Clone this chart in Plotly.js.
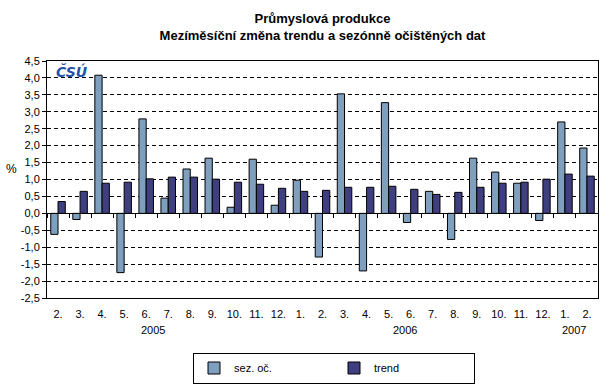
<!DOCTYPE html>
<html>
<head>
<meta charset="utf-8">
<script src="https://cdn.plot.ly/plotly-3.0.1.min.js"></script>
<style>html,body{margin:0;padding:0;background:#fff;}#chart{width:609px;height:384px;}</style>
</head>
<body>
<div id="chart"></div>
<script>
const months = ["2.","3.","4.","5.","6.","7.","8.","9.","10.","11.","12.",
                "1.","2.","3.","4.","5.","6.","7.","8.","9.","10.","11.","12.",
                "1.","2."];
const years = ["2005","2006","2007"];
const yearCounts = [11, 12, 2];
const sezOc = [-0.62,-0.18,4.08,-1.75,2.79,0.45,1.31,1.63,0.18,1.60,0.24,
               0.98,-1.29,3.53,-1.70,3.27,-0.27,0.65,-0.77,1.63,1.22,0.89,-0.21,
               2.70,1.93];
const trend = [0.35,0.65,0.89,0.92,1.02,1.07,1.07,1.01,0.92,0.86,0.74,
               0.65,0.68,0.77,0.77,0.80,0.71,0.56,0.62,0.77,0.89,0.92,1.01,
               1.16,1.10];
const yTicks = [-2.5,-2.0,-1.5,-1.0,-0.5,0,0.5,1.0,1.5,2.0,2.5,3.0,3.5,4.0,4.5];

const idx = months.map((m, i) => i);
const yRange = [-2.5, 4.5];
const font = "Liberation Sans, Arial, sans-serif";

const traces = [
  {type:'bar', name:'sez. oč.', x: idx, y: sezOc,
   marker:{color:'#7f9fbf', line:{color:'#000', width:1}}, hoverinfo:'skip'},
  {type:'bar', name:'trend', x: idx, y: trend,
   marker:{color:'#3f3f80', line:{color:'#000', width:1}}, hoverinfo:'skip'},
  {type:'scatter', mode:'none', x: idx, y: trend, xaxis:'x2', showlegend:false, hoverinfo:'skip'}
];

const annotations = [];
let start = 0;
years.forEach((yr, k) => {
  annotations.push({text: yr, xref:'x', yref:'paper', x: start + (yearCounts[k]-1)*0.43,
    y: -0.135, yanchor:'middle', xanchor:'center', showarrow:false,
    font:{family:font, size:11, color:'#000'}});
  start += yearCounts[k];
});
annotations.push({text:'%', xref:'paper', yref:'paper', x:-0.064, y:0.545,
  xanchor:'center', yanchor:'middle', showarrow:false, font:{family:font, size:12, color:'#000'}});
annotations.push({text:'<b><i>ČSÚ</i></b>', xref:'paper', yref:'paper', x:0.012, y:1.0,
  xanchor:'left', yanchor:'top', showarrow:false,
  font:{family:'DejaVu Sans, sans-serif', size:14, color:'#2552a6'}});

const layout = {
  width:609, height:384,
  margin:{l:47, r:11, t:61, b:86, autoexpand:false},
  paper_bgcolor:'#fff', plot_bgcolor:'#fff',
  separators:', ',
  font:{family:font, size:11, color:'#000'},
  title:{text:'<b>Průmyslová produkce</b><br><b>Mezíměsíční změna trendu a sezónně očištěných dat</b>',
         x:0.5, xref:'paper', y:0.939, yanchor:'top', font:{family:font, size:13, color:'#000'}},
  barmode:'group', bargap:0.34, bargroupgap:0,
  xaxis:{range:[-0.5, months.length-0.5], tickmode:'array', tickvals:idx, ticktext:months,
         ticks:'', showline:true, linecolor:'#000', linewidth:1, mirror:true,
         showgrid:false, zeroline:false, fixedrange:true, ticklabelstandoff:6,
         tickfont:{family:font, size:11, color:'#000'}},
  xaxis2:{overlaying:'x', matches:'x', anchor:'free',
          position:(0 - yRange[0])/(yRange[1]-yRange[0]),
          showline:true, linecolor:'#000', linewidth:1,
          ticks:'outside', ticklen:4, tickcolor:'#000', tickwidth:1,
          tickmode:'linear', tick0:-0.5, dtick:1, showticklabels:false,
          showgrid:false, zeroline:false},
  yaxis:{range:yRange, tickmode:'array', tickvals:yTicks,
         ticktext:yTicks.map(v => v.toFixed(1).replace('.', ',')),
         ticks:'outside', ticklen:4, tickcolor:'#000',
         showline:true, linecolor:'#000', linewidth:1, mirror:true,
         showgrid:true, gridcolor:'#000', gridwidth:1, griddash:'4px,3px',
         zeroline:true, zerolinecolor:'#000', zerolinewidth:1,
         tickfont:{family:font, size:11, color:'#000'}},
  showlegend:true,
  legend:{orientation:'h', x:0.265, y:-0.23, xanchor:'left', yanchor:'top',
          bordercolor:'#000', borderwidth:1, bgcolor:'#fff',
          entrywidth:95, font:{family:font, size:11, color:'#000'}, traceorder:'normal'},
  annotations: annotations
};

Plotly.newPlot('chart', traces, layout, {staticPlot:true, displayModeBar:false});
</script>
</body>
</html>
